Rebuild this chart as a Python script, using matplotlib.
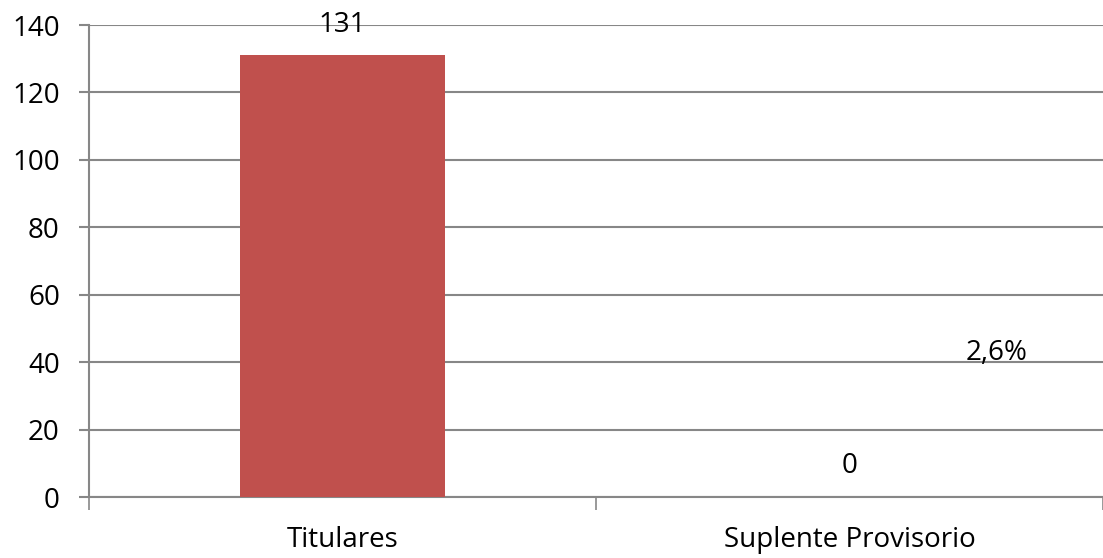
import matplotlib
matplotlib.use('Agg')
import matplotlib.pyplot as plt

# Chart data
categories = ['Titulares', 'Suplente Provisorio']
values = [131, 0]
value_labels = ['131', '0']
note_text = '2,6%'
note_pos = (1.29, 42.7)

plt.rcParams['font.family'] = ['Open Sans', 'DejaVu Sans']

fig = plt.figure(figsize=(11.03, 5.58), dpi=100)
ax = fig.add_axes([89 / 1103, 1 - 497 / 558, 1 - 89 / 1103, (497 - 25) / 558])

grid_color = '#878787'
fs = 20
x = list(range(len(categories)))
ax.bar(x, values, width=0.403, color='#C0504D', zorder=3)

for xi, v, lab in zip(x, values, value_labels):
    ax.annotate(lab, (xi, v), xytext=(0, 22), textcoords='offset points',
                ha='center', va='center', fontsize=fs, color='black', zorder=4)

ax.text(note_pos[0], note_pos[1], note_text, ha='center', va='center',
        fontsize=fs, color='black', zorder=4)

ax.set_xlim(-0.5, len(categories) - 0.5)
ax.set_ylim(0, 140)
ax.set_yticks(range(0, 141, 20))
ax.yaxis.grid(True, color=grid_color, linewidth=1.5, zorder=0)

ax.set_xticks(x)
ax.set_xticklabels(categories)
ax.set_xticks([i - 0.5 for i in range(len(categories) + 1)], minor=True)
ax.tick_params(axis='x', which='major', length=0, pad=21, labelsize=fs)
ax.tick_params(axis='x', which='minor', length=9, width=1.2, color=grid_color)
ax.tick_params(axis='y', length=7, width=1.5, color=grid_color, pad=14, labelsize=fs)

for side in ['top', 'right']:
    ax.spines[side].set_visible(False)
for side in ['left', 'bottom']:
    ax.spines[side].set_color(grid_color)
    ax.spines[side].set_linewidth(1.5)

fig.savefig('out.png', dpi=100)
